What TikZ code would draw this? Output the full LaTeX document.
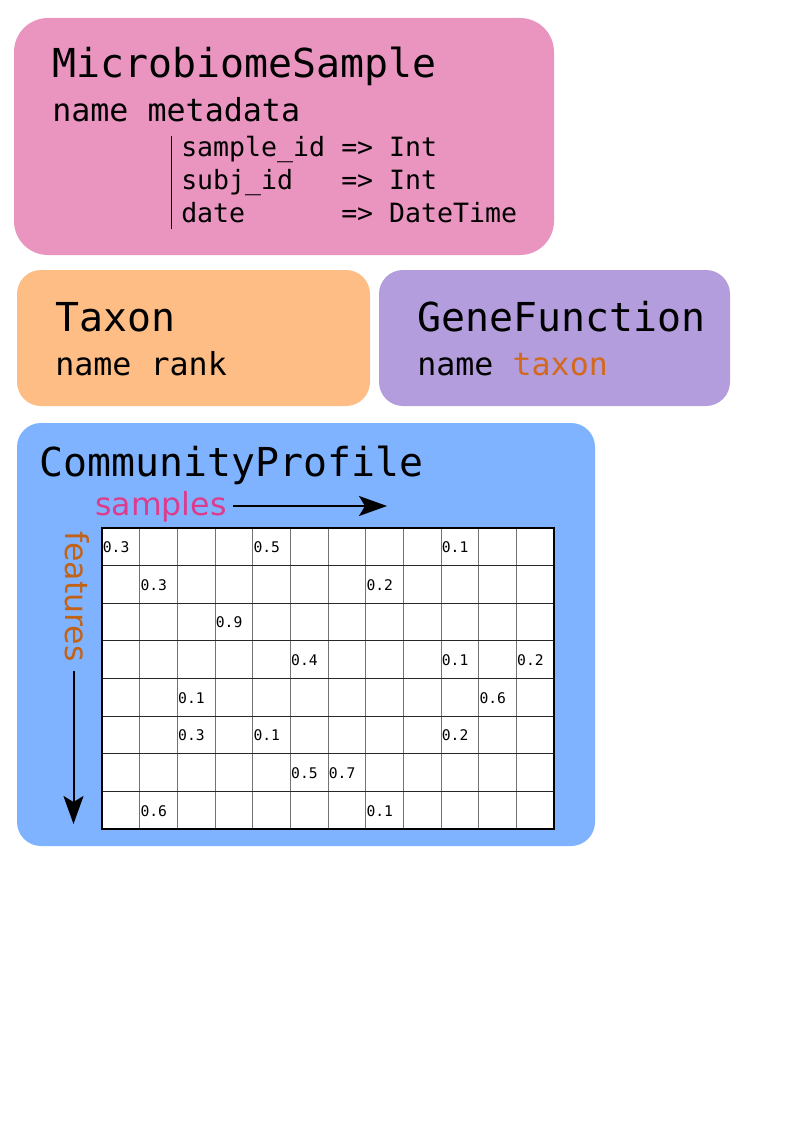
\documentclass[tikz,border=0pt]{standalone}
\usepackage{fontspec}
\setmainfont{DejaVu Sans}
\setsansfont{DejaVu Sans}
\setmonofont{DejaVu Sans Mono}
\usetikzlibrary{arrows.meta}
\definecolor{pinkbox}{HTML}{EA94C0}
\definecolor{orangebox}{HTML}{FDBD85}
\definecolor{purplebox}{HTML}{B39DDD}
\definecolor{bluebox}{HTML}{80B3FF}
\definecolor{taxonc}{HTML}{D2691E}
\definecolor{featc}{HTML}{C26216}
\definecolor{samplesc}{HTML}{DD3C8C}
\begin{document}
\begin{tikzpicture}[x=0.75pt,y=-0.75pt,
  panel/.style={rounded corners=18pt, inner sep=0, draw=none},
  titletext/.style={anchor=base west, inner sep=0, font=\ttfamily\fontsize{29.9}{36}\selectfont},
  fieldtext/.style={anchor=base west, inner sep=0, font=\ttfamily\fontsize{23.75}{28}\selectfont},
  metatext/.style={anchor=base west, inner sep=0, font=\ttfamily\fontsize{19.9}{24}\selectfont},
  axislabel/.style={anchor=base west, inner sep=0, font=\sffamily\fontsize{23.7}{28}\selectfont},
  cellnum/.style={anchor=west, inner sep=0, font=\ttfamily\fontsize{11}{13}\selectfont},
  axisarrow/.style={line width=1.5pt, -{Stealth[length=21pt, width=15pt, inset=4.5pt]}},
  vline/.style={line width=0.75pt, black!55},
  hline/.style={line width=0.75pt, black!85},
  gridframe/.style={line width=1.2pt, black}
]
\useasboundingbox[fill=white] (0,0) rectangle (794,1123);

% panels
\node[panel, fill=pinkbox, rounded corners=25.5pt, minimum width=405pt, minimum height=177.75pt] (msbox) at (284,136.5) {};
\node[panel, fill=orangebox, minimum width=264.75pt, minimum height=102pt] (taxbox) at (193.5,338) {};
\node[panel, fill=purplebox, minimum width=263.25pt, minimum height=102pt] (gfbox) at (554.5,338) {};
\node[panel, fill=bluebox, minimum width=433.5pt, minimum height=317.25pt] (cpbox) at (306,634.5) {};

% MicrobiomeSample
\node[titletext] (mstitle) at (52,78) {MicrobiomeSample};
\node[fieldtext] (msfields) at (52,121.7) {name metadata};
\coordinate (sep1) at (171.5,136);
\coordinate (sep2) at (171.5,229);
\draw[line width=1.1pt] (sep1) -- (sep2);
\node[metatext] (k1) at (181,156.7) {sample\_id};
\node[metatext] (v1) at (341,156.7) {=> Int};
\node[metatext] (k2) at (181,190) {subj\_id};
\node[metatext] (v2) at (341,190) {=> Int};
\node[metatext] (k3) at (181,222.7) {date};
\node[metatext] (v3) at (341,222.7) {=> DateTime};

% Taxon
\node[titletext] (taxtitle) at (55,331.7) {Taxon};
\node[fieldtext] (taxfields) at (55,375) {name rank};

% GeneFunction
\node[titletext] (gftitle) at (417,331.7) {GeneFunction};
\node[fieldtext] (gffields) at (417,375) {name \textcolor{taxonc}{taxon}};

% CommunityProfile
\node[titletext] (cptitle) at (39.5,476.7) {CommunityProfile};
\node[axislabel, text=samplesc] (samples) at (95,515) {samples};
\coordinate (sa1) at (233,506);
\coordinate (sa2) at (387,506);
\draw[axisarrow] (sa1) -- (sa2);
\node[axislabel, text=featc, rotate=-90] (features) at (65,531) {features};
\coordinate (fa1) at (73.5,671);
\coordinate (fa2) at (73.5,824);
\draw[axisarrow] (fa1) -- (fa2);

% grid
\fill[white] (102,528) rectangle (554,829);
\foreach \i in {1,...,11} \draw[vline] ({102+\i*452/12},528) -- ({102+\i*452/12},829);
\foreach \j in {1,...,7} \draw[hline] (102,{528+\j*301/8}) -- (554,{528+\j*301/8});
\draw[gridframe] (102,528) rectangle (554,829);

\foreach \r/\c/\v in {0/0/0.3, 0/4/0.5, 0/9/0.1,
                      1/1/0.3, 1/7/0.2,
                      2/3/0.9,
                      3/5/0.4, 3/9/0.1, 3/11/0.2,
                      4/2/0.1, 4/10/0.6,
                      5/2/0.3, 5/4/0.1, 5/9/0.2,
                      6/5/0.5, 6/6/0.7,
                      7/1/0.6, 7/7/0.1}
  \node[cellnum] (n\r-\c) at ({102.6+\c*452/12},{528.5+(\r+0.5)*301/8}) {\v};
\end{tikzpicture}
\end{document}
